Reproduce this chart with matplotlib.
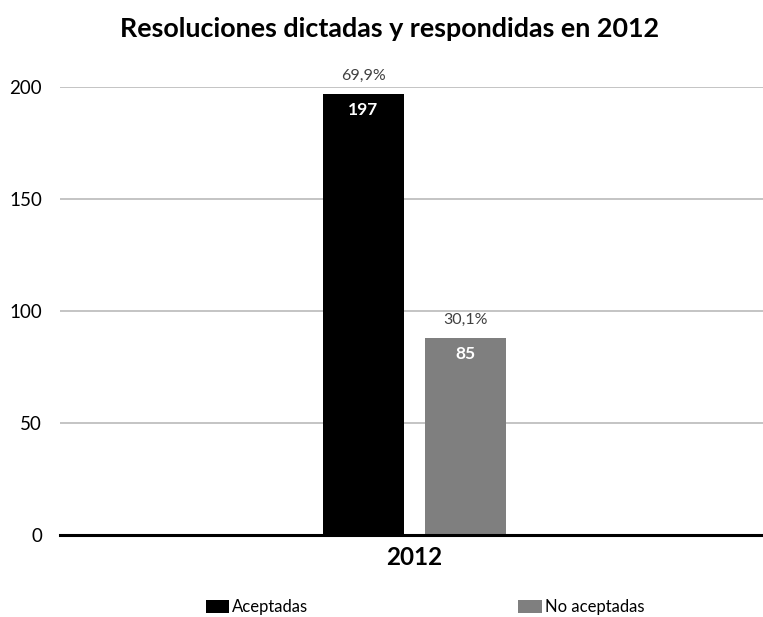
import matplotlib
matplotlib.use("Agg")
import matplotlib.pyplot as plt
from matplotlib.patches import Patch

plt.rcParams['font.family'] = ['Lato', 'DejaVu Sans']

categories = ["2012"]
series_names = ["Aceptadas", "No aceptadas"]
bar_heights = [197, 88]
value_labels = ["197", "85"]
pct_labels = ["69,9%", "30,1%"]
colors = ["#000000", "#7f7f7f"]
yticks = [0, 50, 100, 150, 200]

fig = plt.figure(figsize=(7.63, 6.17), dpi=100)
ax = fig.add_axes([60/763, 1-535/617, 1-60/763, (535-87)/617])

width = 0.115
offsets = [-0.0685, 0.077]
for i, (name, h, c) in enumerate(zip(series_names, bar_heights, colors)):
    x = 0 + offsets[i]
    ax.bar(x, h, width=width, color=c, zorder=3, label=name)
    ax.text(x, h - 3.5, value_labels[i], ha='center', va='top', color='white',
            fontsize=12.5, fontweight='bold', zorder=4)
    ax.text(x, h + 5, pct_labels[i], ha='center', va='bottom', color='#404040',
            fontsize=11.5, zorder=4)

ax.set_xlim(-0.5, 0.5)
ax.set_ylim(0, 200)
ax.set_yticks(yticks)
ax.set_yticklabels([str(t) for t in yticks], fontsize=13.5)
ax.set_xticks([0.004])
ax.set_xticklabels(categories, fontsize=17.5, fontweight='bold')
ax.tick_params(axis='both', length=0)
ax.tick_params(axis='y', pad=13)
ax.tick_params(axis='x', pad=8)
ax.grid(axis='y', color='#bfbfbf', linewidth=1.3, zorder=0)
for s in ['left', 'right', 'top']:
    ax.spines[s].set_visible(False)
ax.spines['bottom'].set_linewidth(2.2)
ax.spines['bottom'].set_zorder(5)

fig.text(390/763, 1 - 29/617, "Resoluciones dictadas y respondidas en 2012",
         ha='center', va='center', fontsize=19.4, fontweight='bold')

handles = [Patch(facecolor=c, edgecolor='none') for c in colors]
fig.legend(handles, series_names, loc='center', bbox_to_anchor=(425/763, 1 - 607/617),
           ncol=2, frameon=False, fontsize=12, handlelength=1.4, handleheight=0.8,
           handletextpad=0.2, columnspacing=12.6, borderpad=0, borderaxespad=0)

fig.savefig("out.png", dpi=100)
